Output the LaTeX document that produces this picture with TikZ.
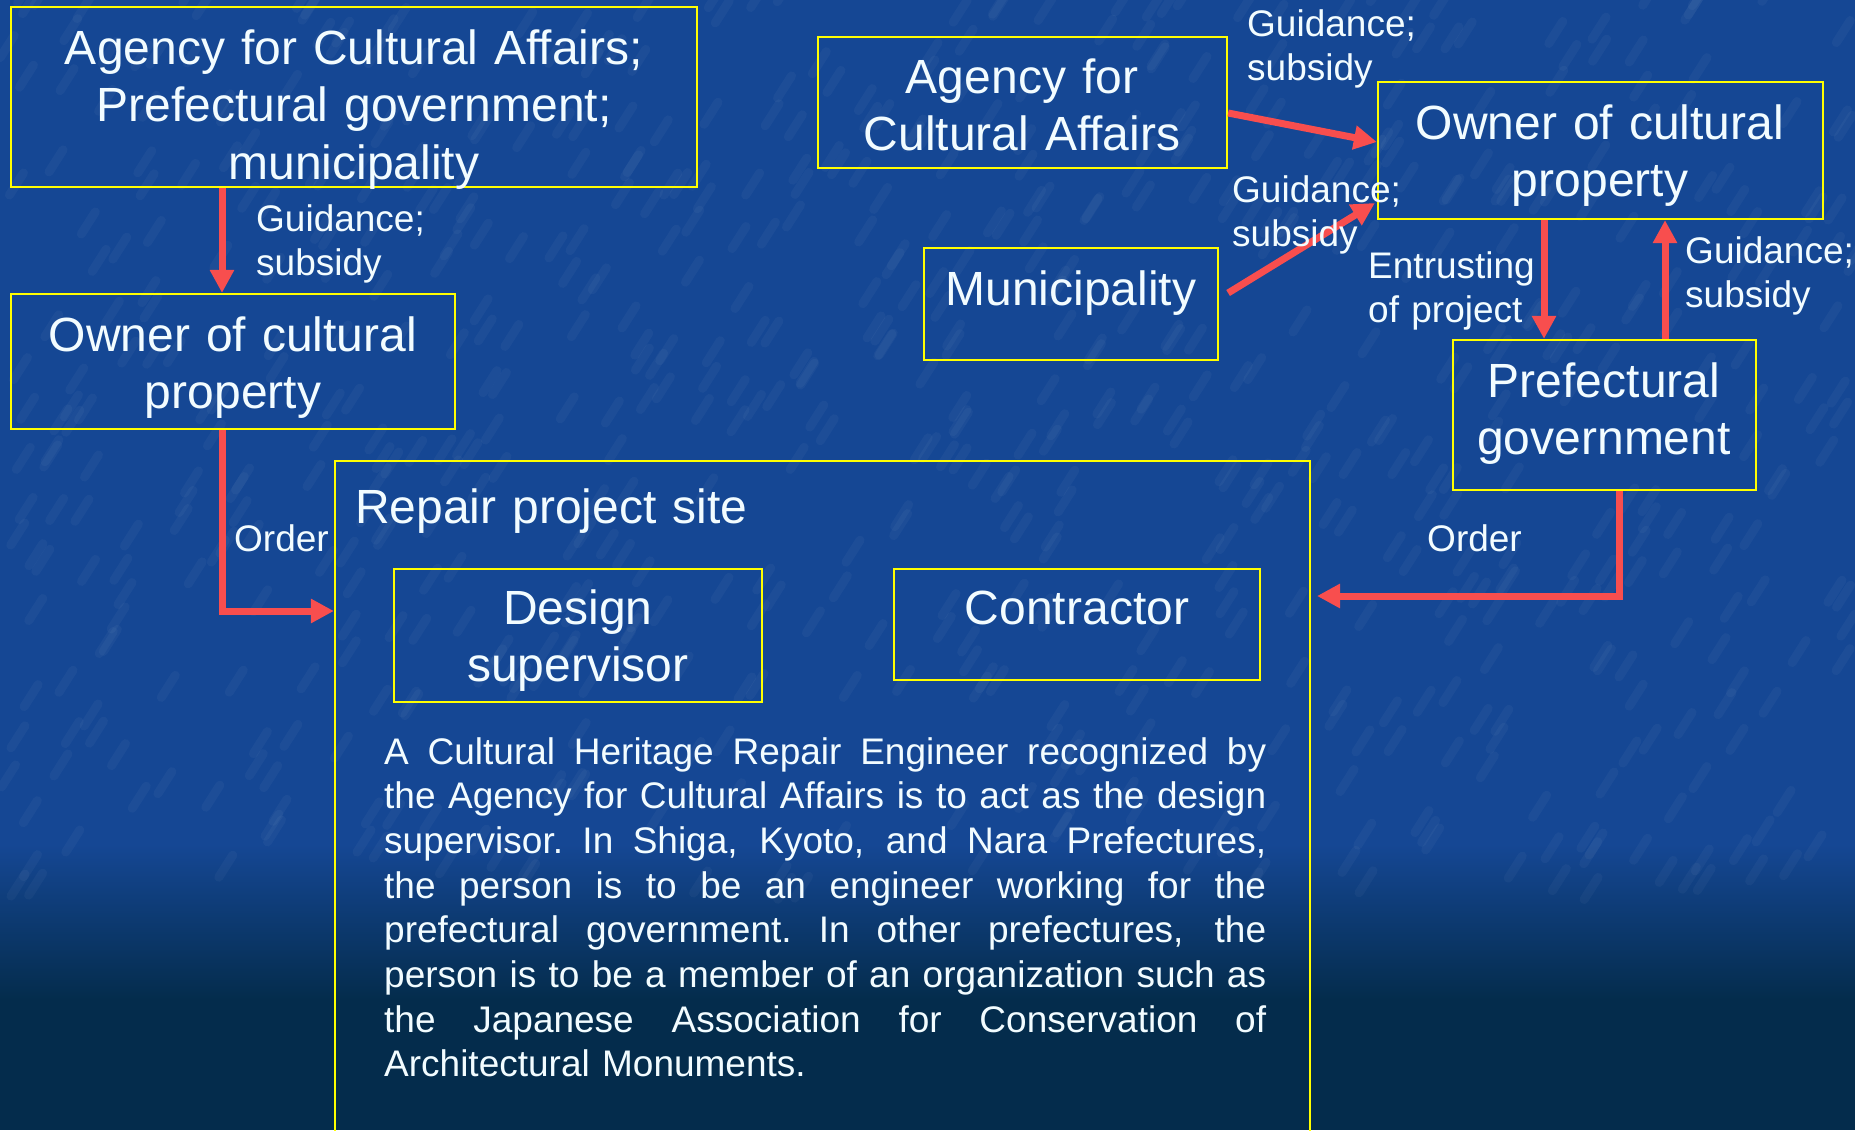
\documentclass[tikz,border=0pt]{standalone}
\usepackage{fontspec}
\setmainfont{Liberation Sans}
\usetikzlibrary{arrows.meta,calc}
\definecolor{bgblue}{RGB}{21,71,148}
\definecolor{bgdark}{RGB}{4,44,76}
\definecolor{boxyellow}{RGB}{255,255,0}
\definecolor{arrred}{RGB}{248,78,78}
\definecolor{txt}{RGB}{242,252,255}
\newcommand\jline[1]{\leavevmode\hbox to 882pt{\spaceskip=0.28em plus 1fil\xspaceskip=0.28em plus 1fil\relax #1}}
\begin{document}
\begin{tikzpicture}[x=1pt,y=-1pt,
  box/.style={draw=boxyellow, line width=2.2pt, inner sep=0pt, rectangle},
  bigtext/.style={text=txt, inner sep=0pt, font=\fontsize{48}{57.5}\selectfont, align=center, anchor=base, text width=700pt},
  lbl/.style={text=txt, inner sep=0pt, font=\fontsize{37}{44}\selectfont, align=left, anchor=base west, text width=300pt},
  para/.style={text=txt, inner sep=0pt, font=\fontsize{37}{44.7}\selectfont, align=left, anchor=base west, text width=882pt},
  arr/.style={draw=arrred, line width=7pt, -{Triangle[width=23pt,length=23pt]}},
]
\useasboundingbox (0,0) rectangle (1869,1130);
\clip (0,0) rectangle (1869,1130);
% background
\fill[bgblue] (0,0) rectangle (1855,845);
\shade[top color=bgblue, bottom color=bgdark] (0,844) rectangle (1855,1000);
\fill[bgdark] (0,999) rectangle (1855,1130);
\pgfmathsetseed{11}
\foreach \i in {1,...,700}{
  \pgfmathsetmacro\xx{rnd*1855}
  \pgfmathsetmacro\yy{rnd*900}
  \draw[white, opacity=0.035, line width=9pt, line cap=round] (\xx,\yy) -- ++(14,-22);
}
\fill[white] (1855,0) rectangle (1869,1130);

% boxes
\node[box, minimum width=686pt, minimum height=180pt] (A1) at (354,97) {};
\node[bigtext] (A1t) at (354,64) {Agency for Cultural Affairs;\\Prefectural government;\\municipality};
\node[box, minimum width=444pt, minimum height=135pt] (ownL) at (233,361.5) {};
\node[bigtext] (ownLt) at (233,351) {Owner of cultural\\property};
\node[box, minimum width=975pt, minimum height=680pt] (site) at (822.5,801) {};
\node[bigtext, anchor=base west, align=left, text width=600pt] (sitet) at (355,523) {Repair project site};
\node[box, minimum width=368pt, minimum height=133pt] (design) at (578,635.5) {};
\node[bigtext] (designt) at (578,624) {Design\\supervisor};
\node[box, minimum width=366pt, minimum height=111pt] (contr) at (1077,624.5) {};
\node[bigtext] (contrt) at (1077,624) {Contractor};
\node[box, minimum width=409pt, minimum height=131pt] (agR) at (1022.5,102.5) {};
\node[bigtext] (agRt) at (1022,93) {Agency for\\Cultural Affairs};
\node[box, minimum width=294pt, minimum height=112pt] (muni) at (1071,304) {};
\node[bigtext] (munit) at (1071,305) {Municipality};
\node[box, minimum width=445pt, minimum height=137pt] (ownR) at (1600.5,150.5) {};
\node[bigtext] (ownRt) at (1600,139) {Owner of cultural\\property};
\node[box, minimum width=303pt, minimum height=150pt] (pref) at (1604.5,415) {};
\node[bigtext] (preft) at (1604,397) {Prefectural\\government};

% paragraph
\node[para] (desc) at (384,764) {%
\jline{A Cultural Heritage Repair Engineer recognized by}\\
\jline{the Agency for Cultural Affairs is to act as the design}\\
\jline{supervisor. In Shiga, Kyoto, and Nara Prefectures,}\\
\jline{the person is to be an engineer working for the}\\
\jline{prefectural government. In other prefectures, the}\\
\jline{person is to be a member of an organization such as}\\
\jline{the Japanese Association for Conservation of}\\
Architectural Monuments.};

% connectors
\coordinate (p1) at (222,0);
\coordinate (o1) at (0,611);
\draw[arr] (p1 |- A1.south) -- (p1 |- ownL.north);
\draw[arr] (p1 |- ownL.south) |- (site.west |- o1);
\draw[arr] ([yshift=-10.5pt]agR.east) -- ([yshift=8.5pt]ownR.west);
\draw[arr] ([xshift=9pt,yshift=11pt]muni.east) -- ([xshift=-2pt,yshift=-52.5pt]ownR.west);
\coordinate (p2) at (1544,0);
\coordinate (p3) at (1665,0);
\coordinate (p4) at (1619,0);
\coordinate (o2) at (1317,596);
\draw[arr] (p2 |- ownR.south) -- (p2 |- pref.north);
\draw[arr] (p3 |- pref.north) -- (p3 |- ownR.south);
\draw[arr] (p4 |- pref.south) |- (o2);

% labels
\node[lbl] (l1) at (256,231) {Guidance;\\subsidy};
\node[lbl] (l2) at (234,551) {Order};
\node[lbl] (l3) at (1247,36) {Guidance;\\subsidy};
\node[lbl] (l4) at (1232,202) {Guidance;\\subsidy};
\node[lbl] (l5) at (1368,278) {Entrusting\\of project};
\node[lbl] (l6) at (1685,263) {Guidance;\\subsidy};
\node[lbl] (l7) at (1427,551) {Order};
\end{tikzpicture}
\end{document}
